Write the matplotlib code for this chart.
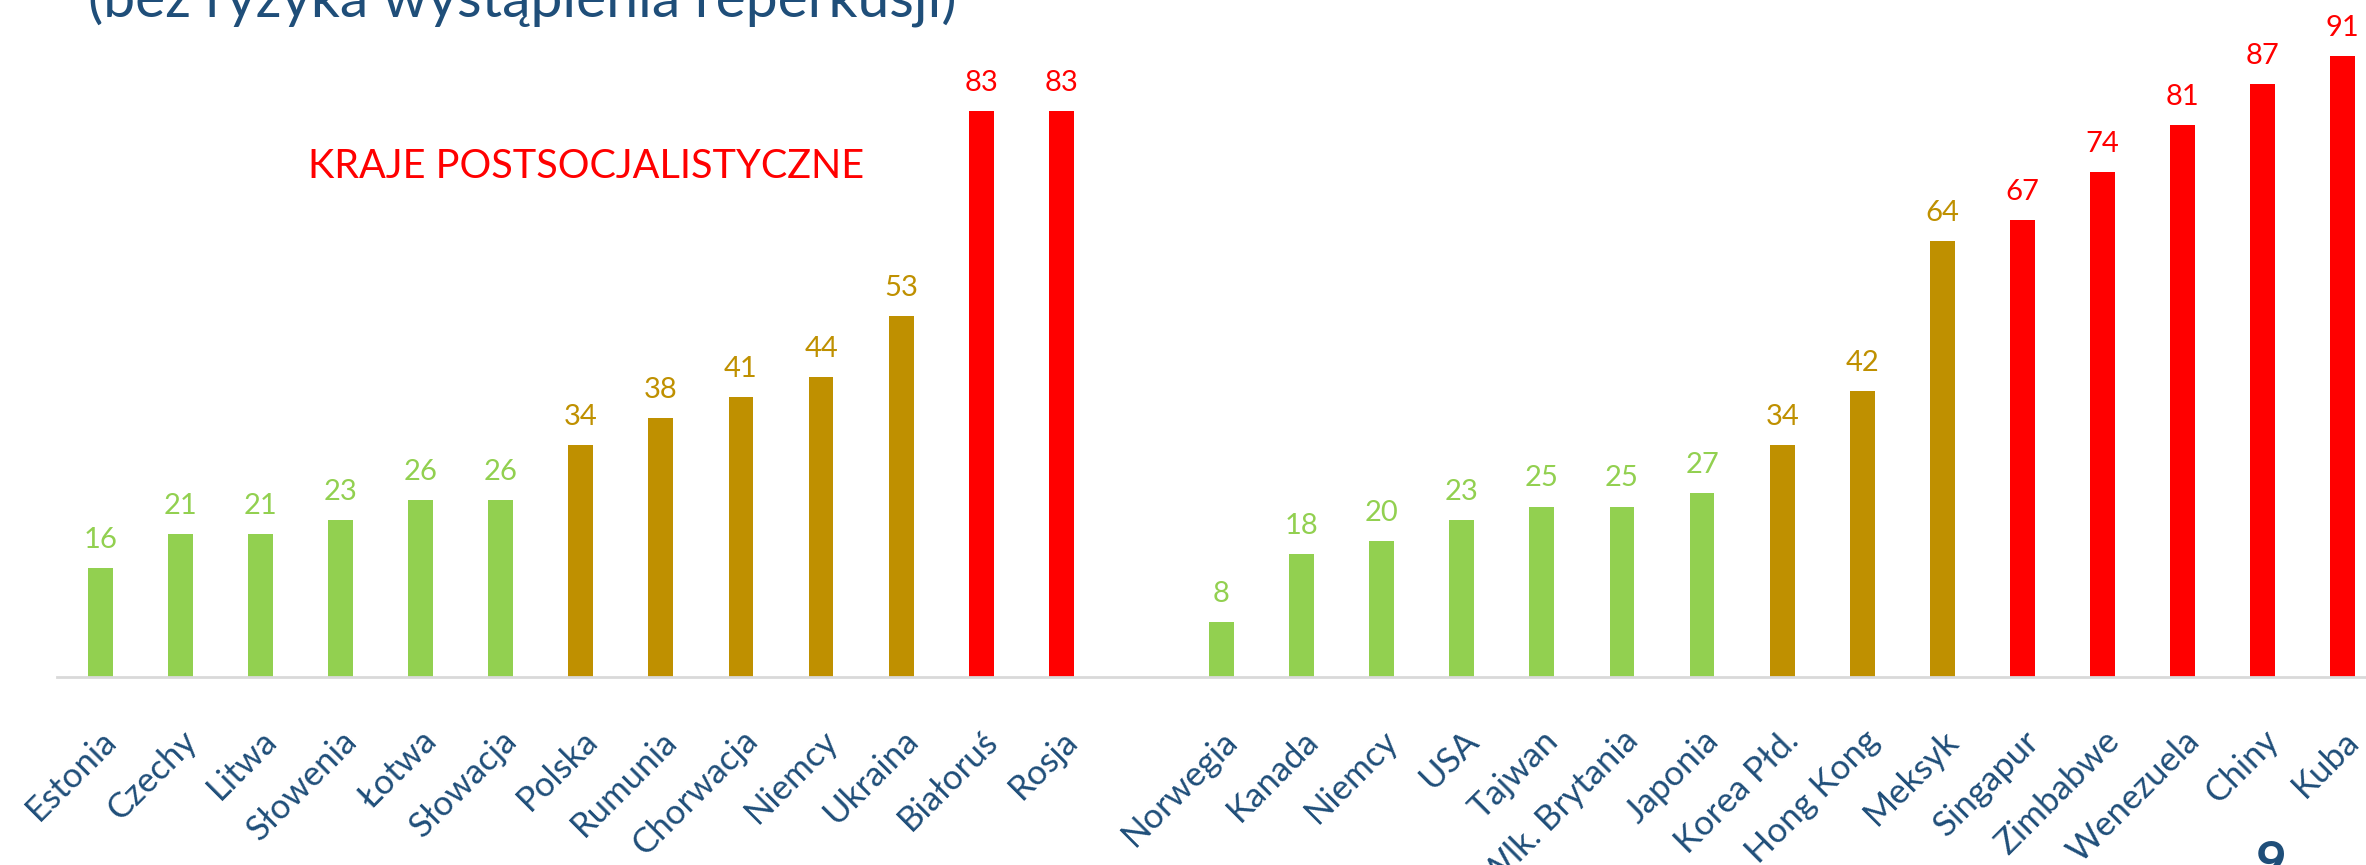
import matplotlib.pyplot as plt
import numpy as np

# data
left_countries = ['Estonia', 'Czechy', 'Litwa', 'Słowenia', 'Łotwa', 'Słowacja', 'Polska',
                  'Rumunia', 'Chorwacja', 'Niemcy', 'Ukraina', 'Białoruś', 'Rosja']
left_values = [16, 21, 21, 23, 26, 26, 34, 38, 41, 44, 53, 83, 83]
left_groups = ['g', 'g', 'g', 'g', 'g', 'g', 'o', 'o', 'o', 'o', 'o', 'r', 'r']

right_countries = ['Norwegia', 'Kanada', 'Niemcy', 'USA', 'Tajwan', 'Wlk. Brytania', 'Japonia',
                   'Korea Płd.', 'Hong Kong', 'Meksyk', 'Singapur', 'Zimbabwe', 'Wenezuela',
                   'Chiny', 'Kuba']
right_values = [8, 18, 20, 23, 25, 25, 27, 34, 42, 64, 67, 74, 81, 87, 91]
right_groups = ['g', 'g', 'g', 'g', 'g', 'g', 'g', 'o', 'o', 'o', 'r', 'r', 'r', 'r', 'r']

COLORS = {'g': '#92D050', 'o': '#BF9000', 'r': '#FF0000'}
TEXT_BLUE = '#1F4E79'

plt.rcParams['font.family'] = ['Lato', 'DejaVu Sans']

W, H = 2366, 865
fig = plt.figure(figsize=(W / 100, H / 100), dpi=100)
ax = fig.add_axes([57 / W, 1 - 677 / H, 1 - 57 / W, 95 * 6.82 / H])

# one empty slot between the two groups
labels = left_countries + [''] + right_countries
values = left_values + [np.nan] + right_values
groups = left_groups + [None] + right_groups
x = np.arange(len(labels))

for xi, v, g in zip(x, values, groups):
    if g is None:
        continue
    ax.bar(xi, v, width=0.31, color=COLORS[g], zorder=2)
    ax.text(xi, v + 2.2, str(v), ha='center', va='bottom', fontsize=21,
            color=COLORS[g], clip_on=False)

ax.set_xlim(-0.54, 28.29)
ax.set_ylim(0, 95)
for s in ['top', 'right', 'left']:
    ax.spines[s].set_visible(False)
ax.spines['bottom'].set_color('#D9D9D9')
ax.spines['bottom'].set_linewidth(2)
ax.set_yticks([])
ax.set_xticks(x)
ax.set_xticklabels(labels, rotation=45, ha='right', rotation_mode='anchor',
                   fontsize=25, color=TEXT_BLUE)
ax.tick_params(axis='x', length=0, pad=34)

ax.text(308 / W, 1 - 166 / H, 'KRAJE POSTSOCJALISTYCZNE', transform=fig.transFigure,
        ha='left', va='center', fontsize=28.5, color='#FF0000')

# title cut off by the top edge of the slide
fig.text(88 / W, 1 - 17 / H, '(bez ryzyka wystąpienia reperkusji)', ha='left',
         va='baseline', fontsize=41, color=TEXT_BLUE)

# slide number
fig.text(2271 / W, 1 - 840 / H, '9', ha='center', va='top', fontsize=38,
         color=TEXT_BLUE, fontweight='bold')

fig.savefig('out.png', dpi=100)
